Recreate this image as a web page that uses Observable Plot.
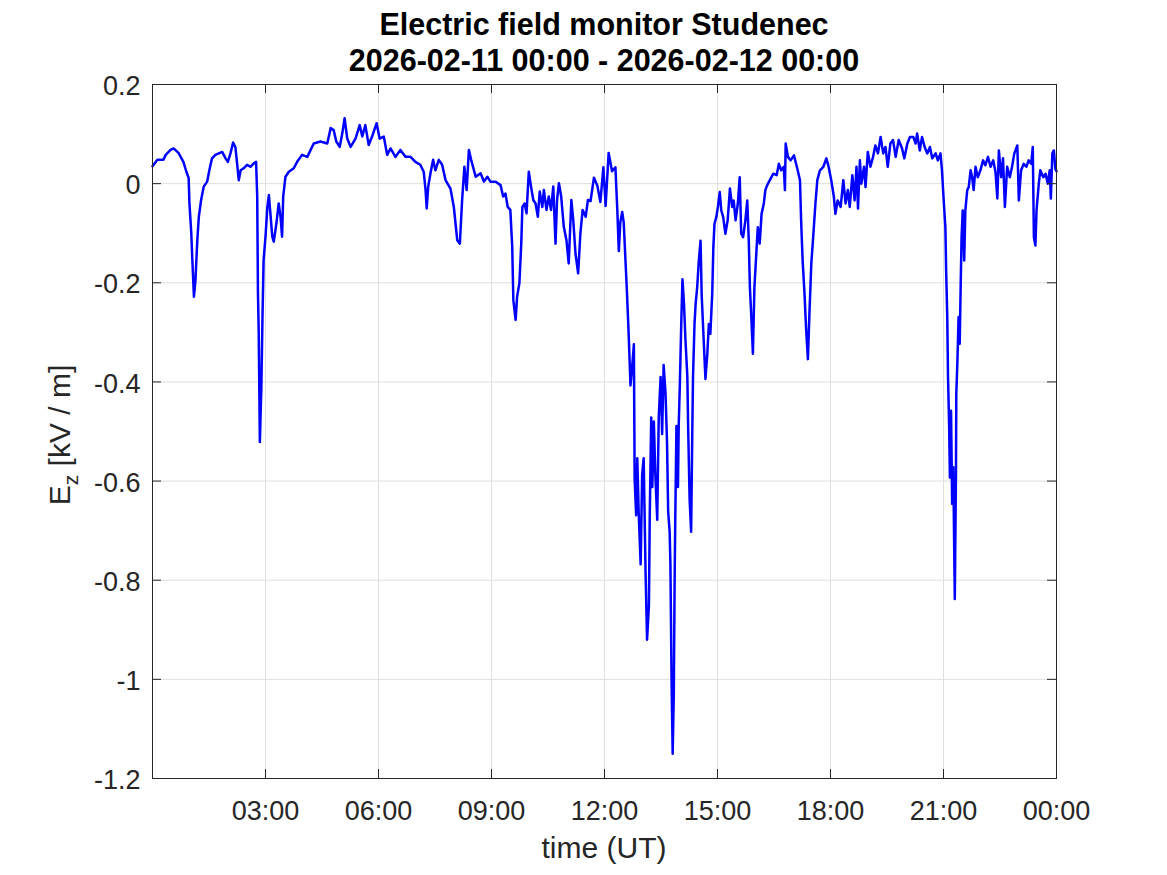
<!DOCTYPE html>
<html>
<head>
<meta charset="utf-8">
<script src="https://cdn.jsdelivr.net/npm/d3@7"></script>
<script src="https://cdn.jsdelivr.net/npm/@observablehq/plot@0.6"></script>
<style>
html, body { margin: 0; padding: 0; background: #fff; }
#chart { position: relative; width: 1167px; height: 875px; }
</style>
</head>
<body>
<div id="chart"></div>
<script>
const titleLines = ["Electric field monitor Studenec", "2026-02-11 00:00 - 2026-02-12 00:00"];
const xLabel = "time (UT)";
const yLabelMain = "E";
const yLabelSub = "z";
const yLabelUnit = " [kV / m]";

const xTicks = [3, 6, 9, 12, 15, 18, 21, 24];
const xTickLabels = ["03:00", "06:00", "09:00", "12:00", "15:00", "18:00", "21:00", "00:00"];
const yTicks = [0.2, 0, -0.2, -0.4, -0.6, -0.8, -1, -1.2];
const yTickLabels = ["0.2", "0", "-0.2", "-0.4", "-0.6", "-0.8", "-1", "-1.2"];

// [hour UT, Ez kV/m]
const samplesEarly = [
[0.00,0.035],[0.13,0.048],[0.29,0.048],[0.35,0.058],[0.48,0.068],[0.56,0.071],[0.69,0.062],[0.82,0.044],
[0.90,0.024],[0.96,0.011],[0.98,-0.039],[1.03,-0.10],[1.05,-0.14],[1.10,-0.228],[1.14,-0.195],[1.19,-0.114],
[1.23,-0.067],[1.29,-0.033],[1.36,-0.006],[1.45,0.004],[1.52,0.031],[1.58,0.051],[1.67,0.058],[1.76,0.061],
[1.85,0.064],[1.94,0.051],[2.00,0.044],[2.07,0.061],[2.14,0.083],[2.20,0.074],[2.25,0.038],[2.29,0.007],
[2.34,0.027],[2.42,0.031],[2.51,0.038],[2.60,0.034],[2.69,0.041],[2.75,0.044],[2.78,-0.026],[2.80,-0.221],
[2.82,-0.30],[2.85,-0.521],[2.89,-0.41],[2.92,-0.269],[2.95,-0.154],[3.00,-0.107],[3.05,-0.047],[3.09,-0.023],
[3.13,-0.06],[3.18,-0.107],[3.22,-0.117],[3.29,-0.08],[3.35,-0.04],[3.40,-0.067],[3.44,-0.107],[3.47,-0.026],
[3.53,0.014],[3.62,0.024],[3.75,0.031],[3.84,0.044],[3.97,0.058],[4.11,0.054],[4.28,0.081],[4.46,0.085],
[4.64,0.081],[4.73,0.112],[4.81,0.108],[4.88,0.085],[4.97,0.074],[5.04,0.102],[5.10,0.132],[5.17,0.091],
[5.26,0.074],[5.39,0.091],[5.50,0.118],[5.57,0.095],[5.65,0.118],[5.74,0.078],[5.83,0.095],[5.95,0.122]
];
const samplesMorning = [
[6.03,0.091],[6.14,0.095],[6.23,0.058],[6.32,0.071],[6.45,0.054],[6.58,0.068],[6.72,0.054],[6.85,0.054],
[6.98,0.044],[7.11,0.038],[7.20,0.024],[7.25,-0.013],[7.28,-0.05],[7.32,-0.006],[7.38,0.021],[7.45,0.048],
[7.51,0.027],[7.60,0.048],[7.69,0.038],[7.78,0.007],[7.91,-0.01],[8.00,-0.047],[8.09,-0.114],[8.16,-0.121],
[8.22,-0.033],[8.28,0.034],[8.34,-0.013],[8.40,0.068],[8.46,0.048],[8.58,0.014],[8.71,0.021],[8.80,0.004],
[8.89,0.014],[8.97,0.004],[9.11,0.004],[9.24,-0.003],[9.31,-0.026],[9.37,-0.02],[9.43,-0.047],[9.50,-0.053],
[9.55,-0.127],[9.58,-0.235],[9.64,-0.275],[9.68,-0.228],[9.74,-0.201],[9.79,-0.121],[9.82,-0.047],[9.88,-0.04],
[9.93,-0.06],[9.99,0.024],[10.05,-0.006],[10.11,-0.033],[10.17,-0.04],[10.23,-0.067],[10.28,-0.016],[10.35,-0.047],
[10.39,-0.013],[10.46,-0.053],[10.52,-0.026],[10.58,-0.053],[10.64,-0.006],[10.70,-0.121],[10.74,-0.033],[10.79,0.001],
[10.85,-0.026],[10.92,-0.087],[10.99,-0.114],[11.05,-0.161],[11.12,-0.033],[11.17,-0.073],[11.23,-0.141],[11.30,-0.181],
[11.36,-0.10],[11.42,-0.053],[11.50,-0.067],[11.56,-0.033],[11.63,-0.035],[11.72,0.012],[11.81,-0.004],[11.89,-0.037],
[11.97,0.033]
];
const samplesAfternoon = [
[12.03,-0.045],[12.11,0.062],[12.20,0.025],[12.29,0.033],[12.34,-0.053],[12.38,-0.136],[12.42,-0.078],[12.47,-0.057],
[12.51,-0.078],[12.56,-0.16],[12.60,-0.226],[12.64,-0.30],[12.69,-0.407],[12.73,-0.374],[12.78,-0.324],[12.80,-0.595],
[12.84,-0.669],[12.87,-0.554],[12.91,-0.669],[12.96,-0.768],[13.00,-0.587],[13.04,-0.554],[13.09,-0.784],[13.13,-0.92],
[13.18,-0.85],[13.20,-0.678],[13.24,-0.472],[13.27,-0.612],[13.31,-0.48],[13.35,-0.587],[13.40,-0.678],[13.44,-0.472],
[13.49,-0.39],[13.53,-0.505],[13.57,-0.366],[13.62,-0.423],[13.66,-0.522],[13.69,-0.661],[13.73,-0.702],[13.75,-0.768],
[13.78,-0.998],[13.81,-1.15],[13.84,-1.03],[13.86,-0.817],[13.88,-0.669],[13.91,-0.489],[13.95,-0.612],[13.97,-0.489],
[14.00,-0.407],[14.04,-0.275],[14.07,-0.193],[14.11,-0.242],[14.15,-0.316],[14.20,-0.39],[14.22,-0.489],[14.26,-0.637],
[14.30,-0.702],[14.33,-0.505],[14.35,-0.39],[14.39,-0.283],[14.42,-0.242],[14.46,-0.21],[14.50,-0.16],[14.55,-0.115],
[14.58,-0.224],[14.63,-0.31],[14.68,-0.394],[14.73,-0.343],[14.77,-0.283],[14.81,-0.303],[14.86,-0.222],[14.89,-0.128],
[14.92,-0.081],[14.97,-0.067],[15.01,-0.047],[15.06,-0.017],[15.10,-0.054],[15.15,-0.067],[15.21,-0.101],[15.27,-0.074],
[15.33,-0.01],[15.39,-0.047],[15.43,-0.034],[15.48,-0.074],[15.54,-0.04],[15.59,0.013],[15.63,-0.101],[15.68,-0.108],
[15.74,-0.074],[15.79,-0.034],[15.83,-0.114],[15.86,-0.209],[15.89,-0.256],[15.94,-0.343],[15.98,-0.209],[16.04,-0.128],
[16.07,-0.088],[16.12,-0.121],[16.17,-0.061],[16.23,-0.04],[16.27,-0.013],[16.32,-0.003],[16.41,0.01],[16.48,0.02],
[16.57,0.017],[16.63,0.04],[16.69,0.027],[16.76,0.034],[16.79,-0.013],[16.81,0.081],[16.87,0.054],[16.94,0.047],
[17.03,0.057],[17.12,0.03],[17.19,0.007],[17.22,-0.074],[17.26,-0.155],[17.31,-0.222],[17.35,-0.29],[17.40,-0.354],
[17.44,-0.263],[17.49,-0.162],[17.54,-0.108],[17.60,-0.04],[17.65,0.007],[17.72,0.027],[17.81,0.034],[17.89,0.051],
[17.95,0.034]
];
const samplesEvening = [
[18.02,0.007],[18.09,-0.027],[18.13,-0.061],[18.19,-0.034],[18.27,-0.047],[18.34,0.007],[18.40,-0.04],[18.46,-0.013],
[18.51,-0.047],[18.58,0.017],[18.64,-0.034],[18.69,0.034],[18.73,-0.05],[18.78,0.047],[18.82,0],[18.89,0.034],
[18.93,-0.007],[18.99,0.064],[19.06,0.034],[19.13,0.054],[19.19,0.077],[19.26,0.061],[19.33,0.094],[19.40,0.061],
[19.46,0.074],[19.52,0.034],[19.59,0.081],[19.66,0.088],[19.73,0.054],[19.81,0.088],[19.90,0.071],[19.96,0.051],
[20.04,0.081],[20.11,0.094],[20.20,0.094],[20.26,0.081],[20.30,0.101],[20.37,0.067],[20.43,0.094],[20.50,0.074],
[20.57,0.061],[20.64,0.074],[20.70,0.051],[20.79,0.061],[20.85,0.047],[20.92,0.061],[20.96,0.027],[21.00,-0.027],
[21.05,-0.088],[21.07,-0.175],[21.10,-0.269],[21.12,-0.39],[21.15,-0.49],[21.17,-0.593],[21.20,-0.458],[21.23,-0.646],
[21.26,-0.572],[21.28,-0.707],[21.30,-0.838],[21.33,-0.593],[21.34,-0.424],[21.37,-0.357],[21.40,-0.269],[21.43,-0.323],
[21.46,-0.189],[21.48,-0.108],[21.51,-0.054],[21.55,-0.155],[21.58,-0.054],[21.63,-0.013],[21.67,-0.007],[21.72,0.027],
[21.76,0.013],[21.80,-0.013],[21.85,0.034],[21.91,0.013],[21.98,0.027],[22.05,0.047],[22.11,0.037],[22.18,0.054],
[22.25,0.034],[22.32,0.047],[22.38,0.024],[22.43,-0.03],[22.47,0.067],[22.53,0.013],[22.58,0.051],[22.63,-0.047],
[22.69,0.034],[22.76,0.013],[22.82,0.034],[22.88,0.061],[22.96,0.077],[23.00,-0.034],[23.06,0.027],[23.13,0.04],
[23.20,0.034],[23.26,0.047],[23.33,0.04],[23.37,0.074],[23.40,-0.108],[23.44,-0.125],[23.47,-0.054],[23.53,0],
[23.57,0.027],[23.65,0.013],[23.71,0.02],[23.77,0],[23.82,0.027],[23.85,-0.03],[23.89,0.061],[23.93,0.067],
[23.97,0.03],[24.00,0.025]
];

const data = [...samplesEarly, ...samplesMorning, ...samplesAfternoon, ...samplesEvening]
  .map(([h, v]) => ({h, v}));

const xDomain = [0, 24];
const yDomain = [-1.2, 0.2];
// y1 = top of the frame (max), y2 = bottom of the frame (min)
const xTickRows = xTicks.map(t => ({t, top: yDomain[1], bottom: yDomain[0]}));
const yTickRows = yTicks.map(t => ({t, left: xDomain[0], right: xDomain[1]}));

const font = "'Liberation Sans', Arial, Helvetica, sans-serif";
const ink = "#262626";
const gridColor = "#dfdfdf";

const W = 1167, H = 875, mL = 152, mR = 111, mT = 84, mB = 97;
const plotW = W - mL - mR, plotH = H - mT - mB;
const tickLen = 9;

const chart = Plot.plot({
  width: W, height: H,
  marginLeft: mL, marginRight: mR, marginTop: mT, marginBottom: mB,
  style: {fontFamily: font, background: "#fff", color: ink, overflow: "visible"},
  x: {type: "linear", domain: xDomain},
  y: {type: "linear", domain: yDomain},
  marks: [
    Plot.gridX({ticks: xTicks.slice(0, -1), stroke: gridColor, strokeOpacity: 1}),
    Plot.gridY({ticks: yTicks.slice(1, -1), stroke: gridColor, strokeOpacity: 1}),
    Plot.line(data, {x: "h", y: "v", stroke: "#0000ff", strokeWidth: 2.5}),
    Plot.ruleX(xTickRows, {x: "t", y1: "top", y2: "bottom", insetTop: plotH - tickLen, stroke: ink}),
    Plot.ruleX(xTickRows, {x: "t", y1: "top", y2: "bottom", insetBottom: plotH - tickLen, stroke: ink}),
    Plot.ruleY(yTickRows, {y: "t", x1: "left", x2: "right", insetRight: plotW - tickLen, stroke: ink}),
    Plot.ruleY(yTickRows, {y: "t", x1: "left", x2: "right", insetLeft: plotW - tickLen, stroke: ink}),
    Plot.frame({stroke: ink}),
    Plot.axisX({ticks: xTicks, tickFormat: d => xTickLabels[xTicks.indexOf(d)], tickSize: 0, tickPadding: 22,
      fontSize: 27, label: null, fill: ink}),
    Plot.axisY({ticks: yTicks, tickFormat: d => yTickLabels[yTicks.indexOf(d)], tickSize: 0, tickPadding: 12,
      fontSize: 27, label: null, fill: ink, dy: 2})
  ]
});

const svg = d3.select(chart);
svg.append("text")
  .attr("x", mL + plotW / 2).attr("y", 35)
  .attr("text-anchor", "middle").attr("font-size", 30.5).attr("font-weight", "bold")
  .attr("font-family", font).attr("fill", "#000").text(titleLines[0]);
svg.append("text")
  .attr("x", mL + plotW / 2).attr("y", 71)
  .attr("text-anchor", "middle").attr("font-size", 30.5).attr("font-weight", "bold")
  .attr("font-family", font).attr("fill", "#000").text(titleLines[1]);
svg.append("text")
  .attr("x", mL + plotW / 2).attr("y", 858)
  .attr("text-anchor", "middle").attr("font-size", 30)
  .attr("font-family", font).attr("fill", ink).text(xLabel);
const yl = svg.append("text")
  .attr("transform", `translate(70, ${mT + plotH / 2 + 4}) rotate(-90)`)
  .attr("text-anchor", "middle").attr("font-size", 30)
  .attr("font-family", font).attr("fill", ink);
yl.append("tspan").text(yLabelMain);
yl.append("tspan").attr("font-size", 21).attr("dy", 8).text(yLabelSub);
yl.append("tspan").attr("dy", -8).text(yLabelUnit);

document.getElementById("chart").appendChild(chart);
</script>
</body>
</html>
